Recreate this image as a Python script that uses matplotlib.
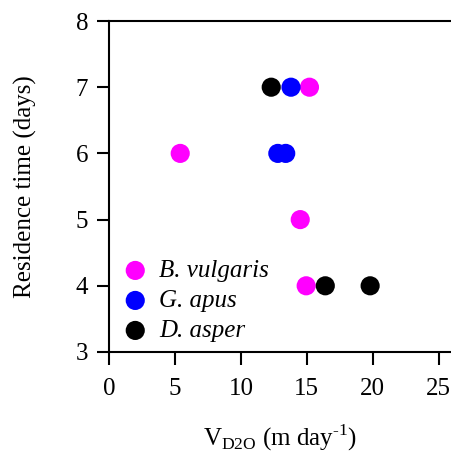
import matplotlib
matplotlib.use("Agg")
import matplotlib.pyplot as plt

species = ["B. vulgaris", "G. apus", "D. asper"]
colors = ["#ff00ff", "#0000ff", "#000000"]
vd2o = {
    "B. vulgaris": [15.2, 5.4, 14.5, 14.95],
    "G. apus": [13.8, 12.8, 13.4],
    "D. asper": [12.3, 16.4, 19.8],
}
residence = {
    "B. vulgaris": [7, 6, 5, 4],
    "G. apus": [7, 6, 6],
    "D. asper": [7, 4, 4],
}
xticks = [0, 5, 10, 15, 20, 25]
yticks = [3, 4, 5, 6, 7, 8]

plt.rcParams["font.family"] = ["Liberation Serif", "DejaVu Serif"]
plt.rcParams["mathtext.fontset"] = "custom"
plt.rcParams["mathtext.rm"] = "Liberation Serif"

fig = plt.figure(figsize=(4.51, 4.59), dpi=100)
ax = fig.add_axes([109/451, 1-352/459, 1-109/451 + 0.002, (352-21)/459])

for sp, c in zip(species, colors):
    ax.scatter(vd2o[sp], residence[sp], s=190, color=c, label=sp, edgecolors="none", zorder=3)

ax.set_xlim(0, 26)
ax.set_ylim(3, 8)
ax.set_xticks(xticks)
ax.set_yticks(yticks)
ax.tick_params(direction="out", length=9, width=1.5, labelsize=18, pad=10)
ax.tick_params(axis="y", pad=6)
for s in ["left", "bottom", "top"]:
    ax.spines[s].set_linewidth(1.5)
ax.spines["right"].set_visible(False)

ax.set_ylabel("Residence time (days)", fontsize=18, labelpad=28)
ax.set_xlabel(r"V$_{\mathrm{D2O}}$ (m day$^{\text{-1}}$)", fontsize=18, labelpad=16)

leg = ax.legend(loc="lower left", frameon=False, prop={"style": "italic", "size": 18},
                handletextpad=0.3, labelspacing=0.3, borderaxespad=0.0,
                markerscale=1.0, scatterpoints=1, handlelength=1.3)

fig.savefig("out.png", dpi=100)
